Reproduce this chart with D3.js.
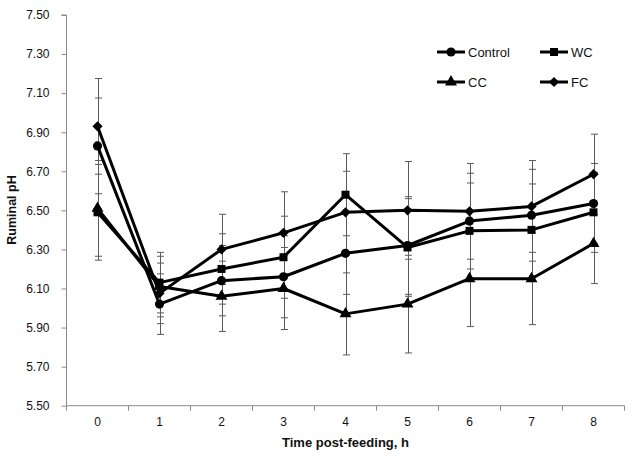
<!DOCTYPE html>
<html>
<head>
<meta charset="utf-8">
<script src="https://cdn.jsdelivr.net/npm/d3@7/dist/d3.min.js"></script>
<style>
  html, body { margin: 0; padding: 0; background: #fff; }
  svg { display: block; }
  text { font-family: "Liberation Sans", Arial, sans-serif; fill: #111; }
</style>
</head>
<body>
<svg id="chart" width="634" height="463"></svg>
<script>
// ---- data ----
const hours = ["0", "1", "2", "3", "4", "5", "6", "7", "8"];
const control = [6.83, 6.02, 6.14, 6.16, 6.28, 6.32, 6.445, 6.475, 6.535];
const wc      = [6.49, 6.13, 6.20, 6.26, 6.58, 6.31, 6.395, 6.40, 6.49];
const cc      = [6.51, 6.11, 6.06, 6.10, 5.97, 6.02, 6.15, 6.15, 6.33];
const fc      = [6.93, 6.075, 6.30, 6.385, 6.49, 6.50, 6.495, 6.52, 6.685];
const sem     = [0.245, 0.155, 0.18, 0.21, 0.21, 0.25, 0.245, 0.235, 0.205];
const seriesNames = ["Control", "WC", "CC", "FC"];
const yTicks = [5.5, 5.7, 5.9, 6.1, 6.3, 6.5, 6.7, 6.9, 7.1, 7.3, 7.5];

const seriesData = [
  { name: "Control", values: control, shape: "circle" },
  { name: "WC", values: wc, shape: "square" },
  { name: "CC", values: cc, shape: "triangle" },
  { name: "FC", values: fc, shape: "diamond" }
];

const svg = d3.select("#chart");
const x = d3.scaleBand().domain(hours).range([66.5, 624.5]);
const y = d3.scaleLinear().domain([5.5, 7.5]).range([405.7, 15]);
const cx = h => x(h) + x.bandwidth() / 2;

function symbolPath(shape) {
  if (shape === "circle") return d3.symbol(d3.symbolCircle, 66)();
  if (shape === "square") return d3.symbol(d3.symbolSquare, 64)();
  if (shape === "triangle") return d3.symbol(d3.symbolTriangle, 62)();
  return d3.symbol(d3.symbolSquare, 52)();
}
function symbolRot(shape) { return shape === "diamond" ? " rotate(45)" : ""; }

// ---- axes ----
const axisColor = "#8a8a8a";
const yAxis = svg.append("g").attr("transform", "translate(66.5,0)")
  .call(d3.axisLeft(y).tickValues(yTicks).tickFormat(d3.format(".2f")).tickSize(5).tickPadding(12));
yAxis.select(".domain").attr("stroke", axisColor).attr("d", `M-5,${y(7.5)}H0V${y(5.5)}`);
yAxis.selectAll(".tick line").attr("stroke", axisColor);
yAxis.selectAll(".tick text").style("font-size", "12px").attr("fill", "#111");

const xAxis = svg.append("g").attr("transform", "translate(0,405.7)")
  .call(d3.axisBottom(x).tickSize(0).tickPadding(12));
xAxis.select(".domain").attr("stroke", axisColor).attr("d", `M66.5,0H624.5`);
xAxis.selectAll(".tick text").style("font-size", "12px").attr("fill", "#111");
// category boundary tick marks
const bounds = hours.map(h => x(h)).concat([x(hours[hours.length - 1]) + x.bandwidth()]);
xAxis.selectAll("line.bound").data(bounds).enter().append("line")
  .attr("class", "bound")
  .attr("x1", d => d).attr("x2", d => d).attr("y1", 0).attr("y2", 5)
  .attr("stroke", axisColor);

svg.append("text").attr("x", 345.5).attr("y", 447)
  .attr("text-anchor", "middle").style("font-size", "13px").style("font-weight", "bold")
  .text("Time post-feeding, h");
svg.append("text").attr("transform", "translate(16,210) rotate(-90)")
  .attr("text-anchor", "middle").style("font-size", "12.5px").style("font-weight", "bold")
  .text("Ruminal pH");

// ---- error bars ----
const eb = svg.append("g").attr("stroke", "#5a5a5a").attr("stroke-width", 1);
seriesData.forEach(s => {
  s.values.forEach((v, i) => {
    const xc = Math.round(cx(hours[i])) + 0.5;
    const hi = y(v + sem[i]), lo = y(v - sem[i]);
    eb.append("line").attr("x1", xc).attr("x2", xc).attr("y1", hi).attr("y2", lo);
    eb.append("line").attr("x1", xc - 3.5).attr("x2", xc + 3.5).attr("y1", hi).attr("y2", hi);
    eb.append("line").attr("x1", xc - 3.5).attr("x2", xc + 3.5).attr("y1", lo).attr("y2", lo);
  });
});

// ---- lines & markers ----
const line = d3.line().x((d, i) => cx(hours[i])).y(d => y(d));
seriesData.forEach(s => {
  svg.append("path").datum(s.values)
    .attr("d", line).attr("fill", "none").attr("stroke", "#000")
    .attr("stroke-width", 3).attr("stroke-linejoin", "round");
  svg.append("g").selectAll("path").data(s.values).enter().append("path")
    .attr("d", symbolPath(s.shape))
    .attr("transform", (d, i) => `translate(${cx(hours[i])},${y(d)})` + symbolRot(s.shape))
    .attr("fill", "#000");
});

// ---- legend ----
const legendPos = [
  { lx: 437, ly: 52 }, { lx: 540, ly: 52 },
  { lx: 437, ly: 82 }, { lx: 540, ly: 82 }
];
seriesData.forEach((s, k) => {
  const p = legendPos[k];
  const g = svg.append("g").attr("transform", `translate(${p.lx},${p.ly})`);
  g.append("line").attr("x1", 0).attr("x2", 28).attr("y1", 0).attr("y2", 0)
    .attr("stroke", "#000").attr("stroke-width", 3);
  g.append("path").attr("d", symbolPath(s.shape))
    .attr("transform", "translate(14,0)" + symbolRot(s.shape)).attr("fill", "#000");
  g.append("text").attr("x", 31).attr("y", 0).attr("dy", "0.36em")
    .style("font-size", "13px").text(s.name);
});
</script>
</body>
</html>
